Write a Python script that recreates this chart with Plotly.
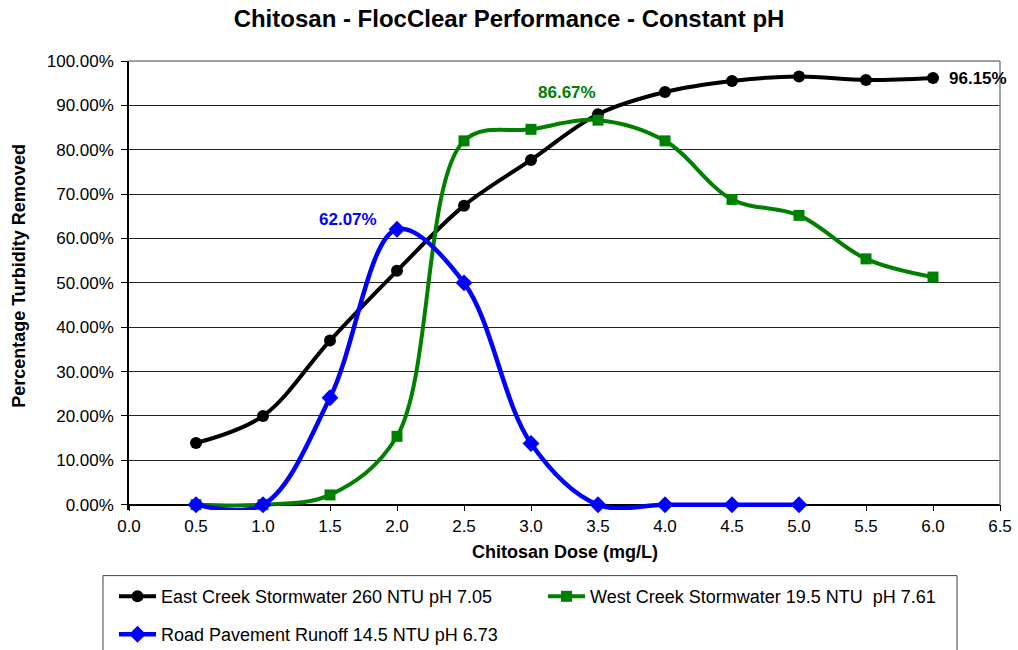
import plotly.graph_objects as go

# ---- data ----
dose_east = [0.5, 1.0, 1.5, 2.0, 2.5, 3.0, 3.5, 4.0, 4.5, 5.0, 5.5, 6.0]
east = [0.139, 0.200, 0.370, 0.527, 0.674, 0.777, 0.880, 0.930, 0.955, 0.965, 0.957, 0.9615]

dose_west = [0.5, 1.0, 1.5, 2.0, 2.5, 3.0, 3.5, 4.0, 4.5, 5.0, 5.5, 6.0]
west = [0.0, 0.0, 0.022, 0.154, 0.820, 0.846, 0.8667, 0.820, 0.688, 0.652, 0.554, 0.513]

dose_road = [0.5, 1.0, 1.5, 2.0, 2.5, 3.0, 3.5, 4.0, 4.5, 5.0]
road = [0.0, 0.0, 0.241, 0.6207, 0.500, 0.138, 0.0, 0.0, 0.0, 0.0]

names = ["East Creek Stormwater 260 NTU pH 7.05",
         "West Creek Stormwater 19.5 NTU  pH 7.61",
         "Road Pavement Runoff 14.5 NTU pH 6.73"]

title = "Chitosan - FlocClear Performance - Constant pH"
x_title = "Chitosan Dose (mg/L)"
y_title = "Percentage Turbidity Removed"

FONT = "Arial, Liberation Sans, sans-serif"

# ---- layout geometry (pixels) ----
W_FIG, H_FIG = 1018, 650
L, R_EDGE, T = 129, 1000, 61
ZERO_PX = 505                  # pixel row of 0 %
YMIN = -0.012                  # small room under 0 so curves are not clipped
H = (ZERO_PX - T) * (1 - YMIN)  # plot height
B = T + H                       # plot bottom pixel
W = R_EDGE - L


def px_x(px):
    return (px - L) / W


def px_y(py):
    return (B - py) / H


fig = go.Figure()
fig.add_trace(go.Scatter(
    x=dose_east, y=east, name=names[0], mode="lines+markers",
    line=dict(color="#000000", width=4, shape="spline", smoothing=1),
    marker=dict(symbol="circle", size=12, color="#000000"),
    cliponaxis=False, legend="legend"))
fig.add_trace(go.Scatter(
    x=dose_west, y=west, name=names[1], mode="lines+markers",
    line=dict(color="#008000", width=4, shape="spline", smoothing=1),
    marker=dict(symbol="square", size=11, color="#008000"),
    cliponaxis=False, legend="legend"))
fig.add_trace(go.Scatter(
    x=dose_road, y=road, name=names[2], mode="lines+markers",
    line=dict(color="#0000FF", width=4.5, shape="spline", smoothing=1),
    marker=dict(symbol="diamond", size=13, color="#0000FF"),
    cliponaxis=False, legend="legend2"))

annotations = [
    dict(x=dose_east[-1], y=east[-1], xref="x", yref="y",
         text="<b>{:.2%}</b>".format(east[-1]), showarrow=False,
         xanchor="left", yanchor="middle", xshift=14,
         font=dict(family=FONT, size=17, color="#000000")),
    dict(x=dose_west[6], y=west[6], xref="x", yref="y",
         text="<b>{:.2%}</b>".format(west[6]), showarrow=False,
         xanchor="right", yanchor="middle", xshift=0, yshift=28,
         font=dict(family=FONT, size=17, color="#008000")),
    dict(x=dose_road[3], y=road[3], xref="x", yref="y",
         text="<b>{:.2%}</b>".format(road[3]), showarrow=False,
         xanchor="right", yanchor="middle", xshift=-18, yshift=10,
         font=dict(family=FONT, size=17, color="#0000FF")),
    dict(x=0.5, y=px_y(552), xref="paper", yref="paper",
         text="<b>" + x_title + "</b>", showarrow=False,
         xanchor="center", yanchor="middle",
         font=dict(family=FONT, size=18, color="#000000")),
    dict(x=px_x(19), y=px_y(276), xref="paper", yref="paper",
         text="<b>" + y_title + "</b>", showarrow=False, textangle=-90,
         xanchor="center", yanchor="middle",
         font=dict(family=FONT, size=18, color="#000000")),
]

shapes = [
    # plot-area frame (grey top and right)
    dict(type="line", xref="paper", yref="paper", x0=0, x1=1, y0=1, y1=1,
         line=dict(color="#808080", width=1.5)),
    dict(type="line", xref="paper", yref="paper", x0=1, x1=1, y0=px_y(ZERO_PX), y1=1,
         line=dict(color="#808080", width=1.5)),
    # legend box
    dict(type="rect", xref="paper", yref="paper",
         x0=px_x(103), x1=px_x(957), y0=px_y(662), y1=px_y(576),
         line=dict(color="#404040", width=1), fillcolor="rgba(0,0,0,0)"),
]

legend_common = dict(orientation="h", xanchor="left", yanchor="middle",
                     xref="paper", yref="paper", borderwidth=0,
                     bgcolor="rgba(0,0,0,0)",
                     entrywidth=377, entrywidthmode="pixels", itemwidth=37,
                     font=dict(family=FONT, size=18, color="#000000"))

fig.update_layout(
    width=W_FIG, height=H_FIG,
    margin=dict(l=L, r=W_FIG - R_EDGE, t=T, b=H_FIG - B, pad=0, autoexpand=False),
    paper_bgcolor="white", plot_bgcolor="white",
    font=dict(family=FONT, size=17, color="#000000"),
    title=dict(text="<b>" + title + "</b>", x=0.5, xref="container",
               y=1 - 19 / H_FIG, yref="container", xanchor="center", yanchor="middle",
               font=dict(family=FONT, size=24, color="#000000")),
    xaxis=dict(range=[0, 6.5], dtick=0.5, tick0=0, tickformat=".1f",
               anchor="free", position=px_y(ZERO_PX), layer="below traces",
               showgrid=False, zeroline=False, automargin=False,
               showline=True, linecolor="#000000", linewidth=1.5,
               ticks="outside", ticklen=6, tickcolor="#000000", tickwidth=1,
               tickfont=dict(family=FONT, size=17, color="#000000")),
    yaxis=dict(range=[YMIN, 1], tickvals=[i / 10 for i in range(11)], tickformat=".2%",
               showgrid=True, gridcolor="#222222", gridwidth=1, zeroline=False,
               showline=True, linecolor="#000000", linewidth=1.5, layer="below traces",
               ticks="outside", ticklen=6, tickcolor="#000000", tickwidth=1,
               ticklabelstandoff=4, automargin=False,
               tickfont=dict(family=FONT, size=17, color="#000000")),
    legend=dict(x=px_x(114), y=px_y(597), **legend_common),
    legend2=dict(x=px_x(114), y=px_y(635), **legend_common),
    annotations=annotations,
    shapes=shapes,
    showlegend=True,
)

fig.write_html("out.html")
